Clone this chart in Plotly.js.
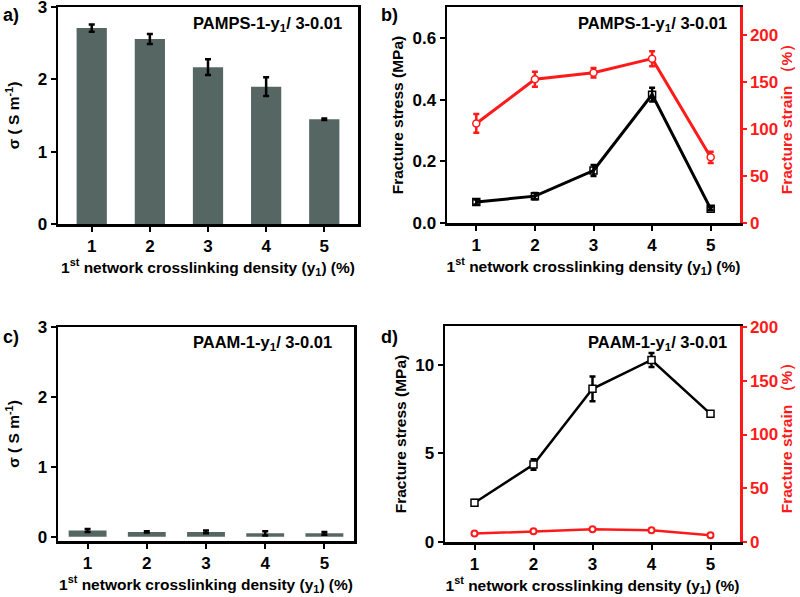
<!DOCTYPE html>
<html>
<head>
<meta charset="utf-8">
<script src="https://cdn.plot.ly/plotly-3.0.1.min.js"></script>
<style>html,body{margin:0;padding:0;background:#fff;}#chart{width:800px;height:597px;}</style>
</head>
<body>
<div id="chart"></div>
<script>
// ---- data ----
const density = [1, 2, 3, 4, 5];
const densityTicks = ['1', '2', '3', '4', '5'];

// (a) PAMPS conductivity
const sigmaPAMPS = [2.71, 2.56, 2.17, 1.90, 1.45];
const sigmaPAMPSErr = [0.05, 0.07, 0.11, 0.13, 0.01];

// (b) PAMPS mechanics
const stressPAMPS = [0.068, 0.087, 0.170, 0.416, 0.046];
const stressPAMPSErr = [0.008, 0.010, 0.018, 0.022, 0.005];
const strainPAMPS = [106, 153, 160, 175, 70];
const strainPAMPSErr = [10, 8, 5, 8, 6];

// (c) PAAM conductivity
const sigmaPAAM = [0.09, 0.07, 0.07, 0.05, 0.05];
const sigmaPAAMErr = [0.02, 0.01, 0.02, 0.03, 0.02];

// (d) PAAM mechanics
const stressPAAM = [2.22, 4.38, 8.65, 10.28, 7.24];
const stressPAAMErr = [0.15, 0.30, 0.70, 0.40, 0.10];
const strainPAAM = [7.8, 10.0, 11.8, 10.9, 6.2];
const strainPAAMErr = [1, 1, 1, 1, 1];

// ---- style ----
const FONT = 'Liberation Sans, Arial, sans-serif';
const BAR = '#566763';
const RED = '#ff1a1a';
const xTitle = '1<sup>st</sup> network crosslinking density (y<sub>1</sub>) (%)';
const tf = {family: FONT, size: 15.5, color: '#000', weight: 'bold'};
const tickf = {family: FONT, size: 17, color: '#000', weight: 'bold'};

function xAxis(domain, range, anchor) {
  return {
    domain: domain, range: range, anchor: anchor,
    tickmode: 'array', tickvals: density, ticktext: densityTicks,
    ticks: 'outside', ticklen: 5, tickwidth: 2, tickcolor: '#000',
    showline: true, linewidth: 2.5, linecolor: '#000', mirror: true,
    showgrid: false, zeroline: false, tickfont: tickf, ticklabeloverflow: 'allow',
    title: {text: xTitle, font: tf, standoff: 7}
  };
}
function yAxis(domain, range, anchor, dtick, fmt, title, mirror, standoff) {
  return {
    domain: domain, range: range, anchor: anchor, dtick: dtick, tick0: 0,
    tickformat: fmt,
    ticks: 'outside', ticklen: 5, tickwidth: 2, tickcolor: '#000',
    showline: true, linewidth: 2.5, linecolor: '#000', mirror: mirror,
    showgrid: false, zeroline: false, tickfont: tickf, ticklabeloverflow: 'allow',
    title: {text: title, font: tf, standoff: standoff}
  };
}
function y2Axis(overlay, range, anchor, dtick, title) {
  return {
    overlaying: overlay, side: 'right', anchor: anchor, range: range,
    dtick: dtick, tick0: 0,
    ticks: 'outside', ticklen: 4, tickwidth: 2, tickcolor: RED,
    showline: true, linewidth: 2.5, linecolor: RED,
    showgrid: false, zeroline: false, ticklabeloverflow: 'allow',
    tickfont: {family: FONT, size: 17, color: RED, weight: 'bold'},
    title: {text: title, font: {family: FONT, size: 15.5, color: RED, weight: 'bold'}, standoff: 4}
  };
}

const errBlack = (arr) => ({type: 'data', array: arr, visible: true, color: '#000', thickness: 2.5, width: 3});
const errRed = (arr) => ({type: 'data', array: arr, visible: true, color: RED, thickness: 2.5, width: 3});

const traces = [
  {type: 'bar', x: density, y: sigmaPAMPS, width: 0.52, marker: {color: BAR},
   error_y: errBlack(sigmaPAMPSErr), xaxis: 'x', yaxis: 'y'},
  {type: 'scatter', mode: 'lines+markers', x: density, y: stressPAMPS,
   line: {color: '#000', width: 3},
   marker: {symbol: 'square-open', size: 7, color: '#000', line: {width: 1.5}},
   error_y: errBlack(stressPAMPSErr), xaxis: 'x2', yaxis: 'y2'},
  {type: 'scatter', mode: 'lines+markers', x: density, y: strainPAMPS,
   line: {color: RED, width: 3},
   marker: {symbol: 'circle', size: 7, color: '#fff', line: {color: RED, width: 1.5}},
   error_y: errRed(strainPAMPSErr), xaxis: 'x2', yaxis: 'y5'},
  {type: 'bar', x: density, y: sigmaPAAM, width: 0.64, marker: {color: BAR},
   error_y: errBlack(sigmaPAAMErr), xaxis: 'x3', yaxis: 'y3'},
  {type: 'scatter', mode: 'lines+markers', x: density, y: stressPAAM,
   line: {color: '#000', width: 2.5},
   marker: {symbol: 'square', size: 7, color: '#fff', line: {color: '#000', width: 1.5}},
   error_y: errBlack(stressPAAMErr), xaxis: 'x4', yaxis: 'y4'},
  {type: 'scatter', mode: 'lines+markers', x: density, y: strainPAAM,
   line: {color: RED, width: 2.5},
   marker: {symbol: 'circle', size: 6, color: '#fff', line: {color: RED, width: 2}},
   error_y: errRed(strainPAAMErr), xaxis: 'x4', yaxis: 'y6'}
];

const W = 800, H = 597;
const dx = (a, b) => [a / W, b / W];
const dy = (top, bottom) => [1 - bottom / H, 1 - top / H];
const annFont = {family: FONT, size: 16.5, color: '#000', weight: 'bold'};
const lblFont = {family: FONT, size: 18, color: '#000', weight: 'bold'};

const layout = {
  width: W, height: H,
  margin: {l: 0, r: 0, t: 0, b: 0},
  paper_bgcolor: '#fff', plot_bgcolor: '#fff',
  showlegend: false,
  font: {family: FONT},
  xaxis: xAxis(dx(58, 358), [0.42, 5.58], 'y'),
  yaxis: yAxis(dy(7, 224), [0, 3.002], 'x', 1, 'd', 'σ ( S m<sup>-1</sup>)', true, 14),
  xaxis2: xAxis(dx(447, 740), [0.5, 5.5], 'y2'),
  yaxis2: yAxis(dy(7, 223), [0, 0.7], 'x2', 0.2, '.1f', 'Fracture stress (MPa)', false, 5),
  yaxis5: y2Axis('y2', [0, 230], 'x2', 50, 'Fracture strain （%）'),
  xaxis3: xAxis(dx(58, 354), [0.5, 5.5], 'y3'),
  yaxis3: yAxis(dy(327, 541), [-0.06, 3.002], 'x3', 1, 'd', 'σ ( S m<sup>-1</sup>)', true, 14),
  xaxis4: xAxis(dx(445, 740), [0.5, 5.5], 'y4'),
  yaxis4: yAxis(dy(326, 542), [0, 12.2], 'x4', 5, 'd', 'Fracture stress (MPa)', false, 5),
  yaxis6: y2Axis('y4', [0, 201], 'x4', 50, 'Fracture strain （%）'),
  annotations: [
    {text: 'PAMPS-1-y<sub>1</sub>/ 3-0.01', xref: 'paper', yref: 'paper', x: 344 / W, y: 1 - 24 / H, xanchor: 'right', yanchor: 'middle', showarrow: false, font: annFont},
    {text: 'PAMPS-1-y<sub>1</sub>/ 3-0.01', xref: 'paper', yref: 'paper', x: 729 / W, y: 1 - 24 / H, xanchor: 'right', yanchor: 'middle', showarrow: false, font: annFont},
    {text: 'PAAM-1-y<sub>1</sub>/ 3-0.01', xref: 'paper', yref: 'paper', x: 334 / W, y: 1 - 343 / H, xanchor: 'right', yanchor: 'middle', showarrow: false, font: annFont},
    {text: 'PAAM-1-y<sub>1</sub>/ 3-0.01', xref: 'paper', yref: 'paper', x: 729 / W, y: 1 - 343 / H, xanchor: 'right', yanchor: 'middle', showarrow: false, font: annFont},
    {text: 'a)', xref: 'paper', yref: 'paper', x: 1 / W, y: 1 - 15 / H, xanchor: 'left', yanchor: 'middle', showarrow: false, font: lblFont},
    {text: 'b)', xref: 'paper', yref: 'paper', x: 379 / W, y: 1 - 15 / H, xanchor: 'left', yanchor: 'middle', showarrow: false, font: lblFont},
    {text: 'c)', xref: 'paper', yref: 'paper', x: 1 / W, y: 1 - 337 / H, xanchor: 'left', yanchor: 'middle', showarrow: false, font: lblFont},
    {text: 'd)', xref: 'paper', yref: 'paper', x: 379 / W, y: 1 - 337 / H, xanchor: 'left', yanchor: 'middle', showarrow: false, font: lblFont}
  ]
};

Plotly.newPlot('chart', traces, layout, {staticPlot: true, displayModeBar: false});
</script>
</body>
</html>
